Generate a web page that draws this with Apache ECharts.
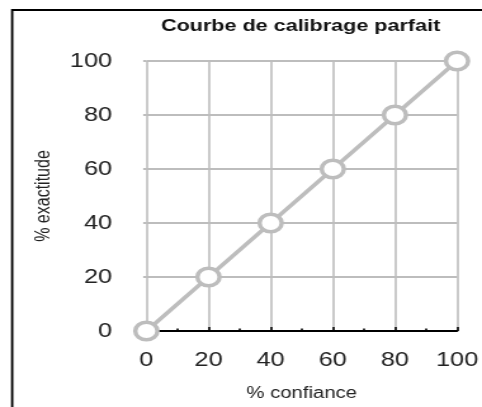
<!DOCTYPE html>
<html>
<head>
<meta charset="utf-8">
<script src="https://cdn.jsdelivr.net/npm/echarts@6/dist/echarts.min.js"></script>
<style>
  html, body { margin: 0; padding: 0; background: #ffffff; overflow: hidden; }
  #chart { width: 380px; height: 407px; transform: scaleX(1.2684); transform-origin: 0 0; }
</style>
</head>
<body>
<div id="chart"></div>
<script>
const titleText = 'Courbe de calibrage parfait';
const xAxisName = '% confiance';
const yAxisName = '% exactitude';
const confidence = [0, 20, 40, 60, 80, 100];
const accuracy = [0, 20, 40, 60, 80, 100];

const gray = '#bdbdbd';
const chart = echarts.init(document.getElementById('chart'), null, { renderer: 'canvas' });

chart.setOption({
  backgroundColor: '#ffffff',
  animation: false,
  title: {
    text: titleText,
    left: 237,
    textAlign: 'center',
    top: 18,
    padding: 0,
    textStyle: { fontFamily: 'Liberation Sans', fontWeight: 'bold', fontSize: 17, color: '#111' }
  },
  graphic: [{
    type: 'polyline',
    silent: true,
    shape: { points: [[9.6, 420], [9.6, 10], [400, 10]] },
    style: { stroke: '#000', lineWidth: 1.8, fill: null }
  }],
  grid: { left: 115.4, right: 18.3, top: 61, bottom: 73, containLabel: false },
  xAxis: {
    type: 'value',
    min: 0, max: 100, interval: 20,
    name: xAxisName,
    nameLocation: 'middle',
    nameGap: 55,
    nameTextStyle: { fontFamily: 'Liberation Sans', fontSize: 16, color: '#222' },
    axisLine: { show: true, lineStyle: { color: '#000', width: 2 } },
    axisTick: { show: true, inside: true, length: 4, lineStyle: { color: '#000', width: 1.6 } },
    minorTick: { show: true, splitNumber: 2, length: 2.5, lineStyle: { color: '#000', width: 1.6 } },
    splitLine: { show: true, lineStyle: { color: gray, width: 1.6 } },
    axisLabel: { margin: 19, fontFamily: 'Liberation Sans', fontSize: 20, color: '#222' }
  },
  yAxis: {
    type: 'value',
    min: 0, max: 100, interval: 20,
    name: yAxisName,
    nameLocation: 'middle',
    nameGap: 73,
    nameTextStyle: { fontFamily: 'Liberation Sans', fontSize: 16, color: '#222' },
    axisLine: { show: false },
    axisTick: { show: true, length: 2.5, lineStyle: { color: gray, width: 2 } },
    splitLine: { show: true, lineStyle: { color: gray, width: 2 } },
    axisLabel: { margin: 27, fontFamily: 'Liberation Sans', fontSize: 20, color: '#222' }
  },
  series: [{
    type: 'line',
    data: confidence.map((c, i) => [c, accuracy[i]]),
    symbol: 'circle',
    symbolSize: 17.5,
    showSymbol: true,
    lineStyle: { color: gray, width: 3.5 },
    itemStyle: { color: '#ffffff', borderColor: gray, borderWidth: 3.5 },
    z: 5
  }]
});
</script>
</body>
</html>
